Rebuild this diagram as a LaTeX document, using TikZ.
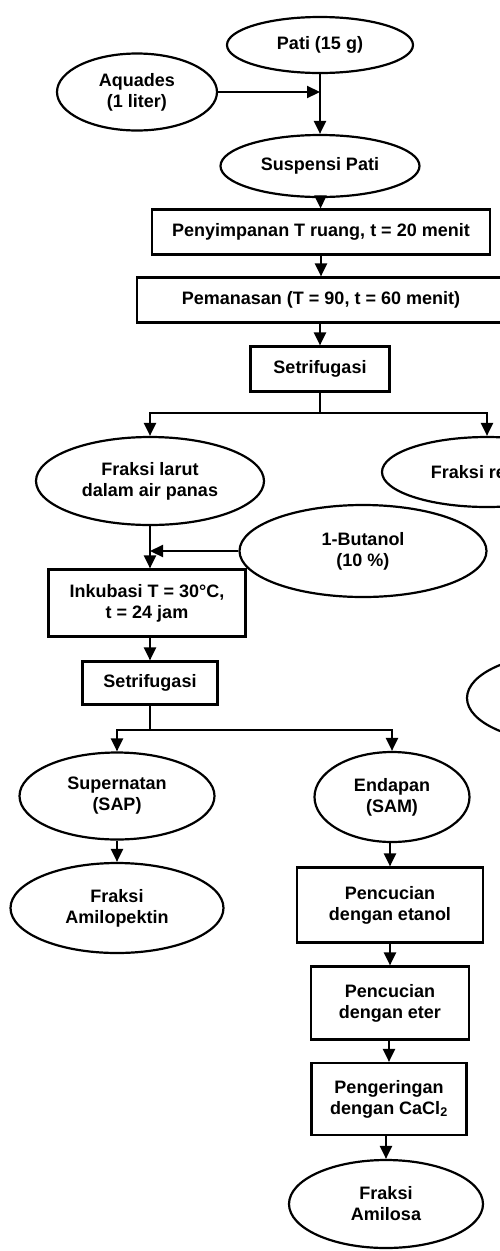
\documentclass[tikz,border=0pt]{standalone}
\usepackage{fontspec}
\setmainfont{Liberation Sans}
\usetikzlibrary{shapes.geometric,arrows.meta}

\begin{document}
\begin{tikzpicture}[%
	x=1pt, y=-1pt,
	every node/.style = {draw, line width=2.2pt, align=center, inner sep=0pt,
		font=\fontsize{18}{21}\selectfont\bfseries},
	oval/.style = {ellipse},
	kotak/.style = {rectangle},
	garis/.style = {line width=2.2pt},
	panah/.style = {garis, -{Triangle[length=13pt,width=12pt]}}
	]
  \useasboundingbox (0,0) rectangle (500,1251);
  \clip (0,0) rectangle (500,1251);
  % bahan awal
  \node [oval, minimum width=186, minimum height=56] (pati) at (320,45) {Pati (15 g)};
  \node [oval, minimum width=160, minimum height=77] (aquades) at (137,92) {Aquades\\(1 liter)};
  \node [oval, minimum width=199, minimum height=62] (suspensi) at (320,166) {Suspensi Pati};
  \node [kotak, minimum width=338, minimum height=45] (simpan) at (321,232) {Penyimpanan T ruang, t = 20 menit};
  \node [kotak, minimum width=368, minimum height=45] (panas) at (321,300) {Pemanasan (T = 90, t = 60 menit)};
  \node [kotak, minimum width=139, minimum height=45] (sentri1) at (320,369) {Setrifugasi};
  % cabang pertama
  \node [oval, minimum width=228, minimum height=88] (larut) at (150,481) {Fraksi larut\\dalam air panas};
  \node [oval, minimum width=210, minimum height=70] (residu) at (487,472) {Fraksi residu};
  \node [oval, minimum width=247, minimum height=92] (butanol) at (363,551) {1-Butanol\\(10 \%)};
  \node [kotak, minimum width=197, minimum height=67] (inkubasi) at (147,603) {Inkubasi T = 30°C,\\t = 24 jam};
  \node [kotak, minimum width=135, minimum height=43] (sentri2) at (150,683) {Setrifugasi};
  \node [oval, minimum width=206, minimum height=90] (lain) at (570,698) {};
  % cabang kedua
  \node [oval, minimum width=195, minimum height=87] (sap) at (117,796) {Supernatan\\(SAP)};
  \node [oval, minimum width=213, minimum height=90] (amilopektin) at (117,908) {Fraksi\\Amilopektin};
  \node [oval, minimum width=155, minimum height=90] (sam) at (392,797) {Endapan\\(SAM)};
  \node [kotak, minimum width=186, minimum height=75] (etanol) at (390,905) {Pencucian\\dengan etanol};
  \node [kotak, minimum width=158, minimum height=73] (eter) at (390,1003) {Pencucian\\dengan eter};
  \node [kotak, minimum width=155, minimum height=72] (kering) at (389,1099) {Pengeringan\\dengan CaCl\textsubscript{2}};
  \node [oval, minimum width=194, minimum height=88] (amilosa) at (386,1204) {Fraksi\\Amilosa};

  \draw [panah] (pati) -- (suspensi);
  \draw [panah] (aquades) -- (aquades -| pati);
  \draw [panah] (suspensi) -- (simpan);
  \draw [panah] (simpan) -- (simpan.south |- panas.north);
  \draw [panah] (panas.south -| sentri1) -- (sentri1);
  \draw [garis] (sentri1) -- ++(0,44) coordinate (cab1);
  \draw [panah] (cab1) -| (larut);
  \draw [panah] (cab1) -| (residu);
  \draw [panah] (larut) -- (larut.south |- inkubasi.north);
  \draw [panah] (butanol) -- (butanol -| larut);
  \draw [panah] (inkubasi.south -| sentri2) -- (sentri2);
  \draw [garis] (sentri2) -- ++(0,47) coordinate (cab2);
  \draw [panah] (cab2) -| (sap);
  \draw [panah] (cab2) -| (sam);
  \draw [panah] (sap) -- (amilopektin);
  \draw [panah] (sam.south -| etanol) -- (etanol);
  \draw [panah] (etanol) -- (eter);
  \draw [panah] (eter.south -| kering) -- (kering);
  \draw [panah] (kering.south -| amilosa) -- (amilosa);
\end{tikzpicture}
\end{document}
